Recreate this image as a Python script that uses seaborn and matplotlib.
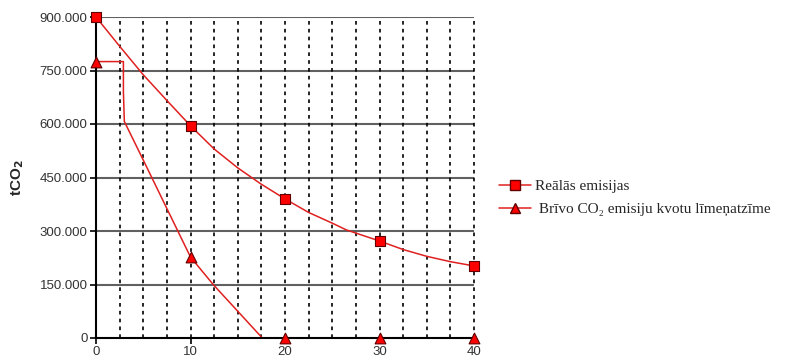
import matplotlib
matplotlib.use("Agg")
import matplotlib.pyplot as plt
import seaborn as sns
from matplotlib.lines import Line2D
from matplotlib.ticker import FuncFormatter, MultipleLocator

sns.set_style("white")
plt.rcParams['font.family'] = ['Liberation Sans', 'DejaVu Sans']

# punkti ar marķieriem
marker_x = [0, 10, 20, 30, 40]
real_marker_y = [900000, 595000, 390000, 272000, 202000]
free_marker_y = [775000, 227000, 0, 0, 0]

# līknes, nolasītas no attēla
real_curve_x = [0, 2.5, 5, 7.5, 10, 12.5, 15, 17.5, 20, 22.5, 25, 26.5, 30, 32.5, 35, 37.5, 40]
real_curve_y = [900000, 818000, 738000, 666000, 595000, 530000, 477000, 431000, 390000,
                352000, 322000, 303000, 272000, 248000, 229000, 214000, 202000]
free_curve_x = [0, 2.9, 2.9, 3.0, 5, 5.9, 10, 12.4, 17.6]
free_curve_y = [775000, 775000, 690000, 607000, 499000, 450000, 227000, 150000, 0]

labels = ['Reālās emisijas', ' Brīvo CO₂ emisiju kvotu līmeņatzīme']
line_col = '#e02020'

fig = plt.figure(figsize=(7.85, 3.57), dpi=100)
ax = fig.add_axes([96/785, 19/357, 378/785, 321/357])

# režģis
for v in range(150000, 900001, 150000):
    ax.axhline(v, color='#606060', lw=1.5, zorder=1)
x = 2.5
while x <= 40:
    ax.axvline(x, color='black', lw=1.2, ls=(0, (2.2, 2.5)), zorder=1, clip_on=False)
    x += 2.5

sns.lineplot(x=real_curve_x, y=real_curve_y, sort=False, estimator=None, ax=ax,
             color=line_col, lw=1.1, zorder=3)
sns.lineplot(x=free_curve_x, y=free_curve_y, sort=False, estimator=None, ax=ax,
             color=line_col, lw=1.1, zorder=3)
sns.scatterplot(x=marker_x, y=real_marker_y, ax=ax, marker='s', s=55, color='#ff0000',
                edgecolor='#600000', linewidth=0.8, zorder=5, clip_on=False)
sns.scatterplot(x=marker_x, y=free_marker_y, ax=ax, marker='^', s=60, color='#ff0000',
                edgecolor='#600000', linewidth=0.8, zorder=5, clip_on=False)

ax.set_xlim(0, 40)
ax.set_ylim(0, 900000)
ax.set_xticks([0, 10, 20, 30, 40])
ax.yaxis.set_major_locator(MultipleLocator(150000))
ax.yaxis.set_major_formatter(FuncFormatter(lambda v, p: f"{v:,.0f}".replace(',', '.')))
ax.tick_params(axis='both', direction='out', length=4, width=1.2, color='black',
               labelsize=9.5, labelcolor='#333333', pad=2)
ax.tick_params(left=True, bottom=True)

for s in ['top', 'right']:
    ax.spines[s].set_visible(False)
for s in ['left', 'bottom']:
    ax.spines[s].set_color('black')
    ax.spines[s].set_linewidth(1.5)
    ax.spines[s].set_zorder(4)

ax.set_ylabel('tCO$_\\mathbf{2}$', fontsize=11, fontweight='bold')
ax.yaxis.set_label_coords(-0.185, 0.5)

handles = [
    Line2D([], [], color=line_col, lw=1.1, marker='s', markersize=7,
           markerfacecolor='#ff0000', markeredgecolor='#600000'),
    Line2D([], [], color=line_col, lw=1.1, marker='^', markersize=7,
           markerfacecolor='#ff0000', markeredgecolor='#600000'),
]
fig.legend(handles, labels, loc='upper left', bbox_to_anchor=(485/785, 1 - 166/357),
           frameon=False, handlelength=2.1, handletextpad=0.3, labelspacing=0.6,
           prop={'family': ['Liberation Serif', 'DejaVu Serif'], 'size': 11})

fig.savefig('out.png', dpi=100)
